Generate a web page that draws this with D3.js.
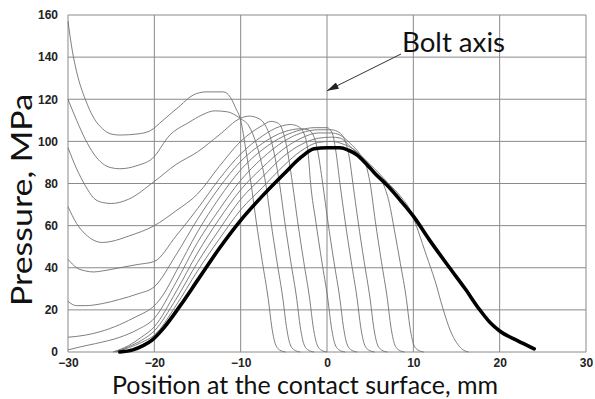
<!DOCTYPE html>
<html>
<head>
<meta charset="utf-8">
<script src="https://cdn.jsdelivr.net/npm/d3@7"></script>
<style>
  html, body { margin: 0; padding: 0; background: #fff; }
  svg { display: block; }
</style>
</head>
<body>
<svg id="chart" width="595" height="399"></svg>
<script>
// Axis ticks
const xTicks = [-30, -20, -10, 0, 10, 20, 30];
const yTicks = [0, 20, 40, 60, 80, 100, 120, 140, 160];

// Pressure profiles [position mm, pressure MPa], from the most loaded one downwards
const load157 = [[-30,157],[-29.5,143],[-29,133],[-28,120],[-27,111],[-26,106],[-25,103.5],[-24,103],[-22,103.5],[-20.5,105],[-19,110],[-17,117],[-15.5,122],[-14,123.5],[-12,123.5],[-11.2,121],[-10.6,116],[-10,110],[-9.4,96],[-8.8,80],[-8.2,62],[-7.5,43],[-6.8,25],[-6.4,12],[-6,4],[-5.5,1],[-4.8,0]];
const load120 = [[-30,120],[-29,110],[-28,101],[-27,94],[-26,89.5],[-25,87.5],[-24,87],[-22,88.5],[-20.2,92],[-18.2,103],[-16,109],[-14.5,112.5],[-13,114.5],[-11.5,114],[-10.1,111],[-9,107],[-8.2,99],[-7.6,90],[-7.1,80],[-6.5,62],[-5.8,43],[-5.1,25],[-4.7,12],[-4.3,4],[-3.8,1],[-3.1,0]];
const load97 = [[-30,97],[-29,87],[-28,79],[-27,73],[-26,71],[-25,70.5],[-23,72.5],[-20,81],[-17.5,89],[-15,95],[-12.5,103],[-10,111],[-9,112],[-8,111],[-7.2,108],[-6.5,101],[-6,92],[-5.5,80],[-4.9,62],[-4.2,43],[-3.5,25],[-3.1,12],[-2.7,4],[-2.2,1],[-1.5,0]];
const load69 = [[-30,69],[-29,61],[-28,56],[-27,53],[-26,52],[-25,52.5],[-23,55],[-20,60],[-17.5,67],[-15,75],[-12.5,88],[-10,100],[-7.5,107.5],[-6.5,109.5],[-5.6,108.5],[-4.8,100],[-4.0,80],[-3.4,62],[-2.7,43],[-2.0,25],[-1.6,12],[-1.2,4],[-0.7,1],[0,0]];
const load44 = [[-30,44],[-29,40],[-28,38.5],[-27,38],[-26,38.5],[-24,40],[-22,41.5],[-20,43],[-17.5,55],[-15,68],[-12.5,82],[-10,94],[-7.5,102.5],[-5.5,107],[-4.2,108],[-3.3,107],[-2.6,103],[-2.2,95],[-1.9,80],[-1.3,62],[-0.6,43],[0.1,25],[0.5,12],[0.9,4],[1.4,1],[2.1,0]];
const load24 = [[-30,24],[-29,22],[-28,22],[-26,23],[-24,25],[-22,27.5],[-20,31],[-17.5,46],[-15,63],[-12.5,78],[-10,90.5],[-7.5,99],[-5,104.5],[-3,106],[-2.2,105.5],[-1.6,103],[-1.1,96],[-0.5,80],[0.1,62],[0.8,43],[1.5,25],[1.9,12],[2.3,4],[2.8,1],[3.5,0]];
const load7 = [[-30,7],[-28,8],[-26.4,9.5],[-24,13],[-22,17],[-21,19],[-20,22],[-19,27],[-17.5,38],[-15,57],[-12.5,73],[-10,86.5],[-7.5,96],[-5,102.5],[-3,105.5],[-1.5,106.5],[0,106.5],[0.6,104],[1.0,96],[1.5,80],[2.1,62],[2.8,43],[3.5,25],[3.9,12],[4.3,4],[4.8,1],[5.5,0]];
const load1 = [[-30,1],[-28.5,2.5],[-26.8,4],[-24,7],[-22,10.5],[-20,16],[-17.5,33],[-15,52],[-12.5,67.5],[-10,81.5],[-7.5,92],[-5,100],[-3,104],[-1,105.5],[0.5,105.5],[1.5,104],[2.2,99],[2.6,92],[3.0,80],[3.6,62],[4.3,43],[5.0,25],[5.4,12],[5.8,4],[6.3,1],[7,0]];
const loadA = [[-24.8,0],[-23,3],[-21.5,7],[-20,12],[-17.5,28.5],[-15,47],[-12.5,63],[-10,77],[-7.5,87.5],[-5,96.5],[-3,101.5],[-1,104],[0.5,104],[1.5,103],[2.7,99],[3.8,94],[4.5,89],[5.0,80],[5.6,62],[6.3,43],[7.0,25],[7.4,12],[7.8,4],[8.3,1],[9,0]];
const loadB = [[-24.6,0],[-23,2.5],[-21.5,5.5],[-20,10],[-17.5,25],[-15,42.5],[-12.5,58],[-10,72.5],[-7.5,83],[-5,93],[-3,98.5],[-1,101.5],[0.5,102],[1.5,101.6],[2.7,97.5],[4,92.5],[5.5,86],[6.5,80],[7.2,71],[7.8,58],[8.5,42],[9.2,25],[9.6,12],[10,4],[10.5,1],[11.2,0]];
const loadC = [[-24.4,0],[-23,2],[-21.5,4.5],[-20,8],[-17.5,22],[-15,38.5],[-12.5,53.5],[-10,67.5],[-7.5,78],[-5,88.5],[-3,95.5],[-1,99.5],[0.5,100],[2,98.5],[3,96.5],[4,93],[5,89],[6,85],[7,80.5],[8.5,74],[9.8,66],[10.6,57],[11.5,46],[12.5,34],[13.4,21],[14.3,10],[15,4.5],[15.6,1.5],[16.4,0]];
// Initial (preload only) distribution, drawn heavy
const initial = [[-24,0],[-22.5,1],[-21.3,3],[-20.3,5.5],[-19,11],[-17,22],[-15,34],[-12.5,49],[-10,62.5],[-7.5,74],[-5,84.5],[-3,92.5],[-1.5,96.5],[0,97],[1.5,97],[2.5,95.8],[3.5,93.5],[4.5,89.5],[5.5,85],[7,79],[8.5,72],[10,64.5],[11.9,53],[14.2,40],[16,30],[17.7,20],[19,13.5],[20,10],[22,5.5],[24,1.5]];

const thinCurves = [load157, load120, load97, load69, load44, load24, load7, load1, loadA, loadB, loadC];

const svg = d3.select("#chart");
const x = d3.scaleLinear().domain([-30, 30]).range([68, 586]);
const y = d3.scaleLinear().domain([0, 160]).range([352, 15]);

const gridColor = "#8a8a8a";

// grid
svg.append("g")
  .selectAll("line")
  .data(yTicks)
  .join("line")
  .attr("x1", x(-30)).attr("x2", x(30))
  .attr("y1", d => y(d)).attr("y2", d => y(d))
  .attr("stroke", gridColor).attr("stroke-width", 1);
svg.append("g")
  .selectAll("line")
  .data(xTicks)
  .join("line")
  .attr("y1", y(0)).attr("y2", y(160))
  .attr("x1", d => x(d)).attr("x2", d => x(d))
  .attr("stroke", gridColor).attr("stroke-width", 1);

// axes (labels only)
const tickFont = "'Liberation Sans', Arial, sans-serif";
const yAxis = svg.append("g")
  .attr("transform", `translate(${x(-30)},0)`)
  .call(d3.axisLeft(y).tickValues(yTicks).tickSize(0).tickPadding(10));
const xAxis = svg.append("g")
  .attr("transform", `translate(0,${y(0)})`)
  .call(d3.axisBottom(x).tickValues(xTicks).tickSize(0).tickPadding(6));
[yAxis, xAxis].forEach(g => {
  g.select(".domain").remove();
  g.selectAll("text")
    .attr("font-family", tickFont)
    .attr("font-weight", "bold")
    .attr("font-size", 12)
    .attr("fill", "#222");
});

const line = d3.line()
  .x(d => x(d[0]))
  .y(d => y(d[1]))
  .curve(d3.curveMonotoneX);

svg.append("g")
  .selectAll("path")
  .data(thinCurves)
  .join("path")
  .attr("d", line)
  .attr("fill", "none")
  .attr("stroke", "#707070")
  .attr("stroke-width", 0.9);

svg.append("path")
  .datum(initial)
  .attr("d", line)
  .attr("fill", "none")
  .attr("stroke", "#000")
  .attr("stroke-width", 3.6)
  .attr("stroke-linecap", "round")
  .attr("stroke-linejoin", "round");

// bolt axis annotation
svg.append("defs").append("marker")
  .attr("id", "head")
  .attr("viewBox", "0 0 10 6")
  .attr("refX", 10).attr("refY", 3)
  .attr("markerWidth", 13).attr("markerHeight", 7)
  .attr("markerUnits", "userSpaceOnUse")
  .attr("orient", "auto")
  .append("path")
  .attr("d", "M0,0 L10,3 L0,6 Z")
  .attr("fill", "#222");

svg.append("line")
  .attr("x1", 401).attr("y1", 54)
  .attr("x2", x(0)).attr("y2", y(124))
  .attr("stroke", "#333").attr("stroke-width", 1)
  .attr("marker-end", "url(#head)");

const titleFont = "Lato, 'Noto Sans', sans-serif";
svg.append("text")
  .attr("x", 402).attr("y", 52)
  .attr("font-family", titleFont)
  .attr("font-size", 26)
  .attr("textLength", 103).attr("lengthAdjust", "spacingAndGlyphs")
  .attr("fill", "#111")
  .text("Bolt axis");

svg.append("text")
  .attr("x", 112).attr("y", 394)
  .attr("font-family", titleFont)
  .attr("font-size", 25)
  .attr("textLength", 386).attr("lengthAdjust", "spacingAndGlyphs")
  .attr("fill", "#111")
  .text("Position at the contact surface, mm");

svg.append("text")
  .attr("transform", "translate(32,306) rotate(-90)")
  .attr("font-family", titleFont)
  .attr("font-size", 28)
  .attr("textLength", 212).attr("lengthAdjust", "spacingAndGlyphs")
  .attr("fill", "#111")
  .text("Pressure, MPa");
</script>
</body>
</html>
